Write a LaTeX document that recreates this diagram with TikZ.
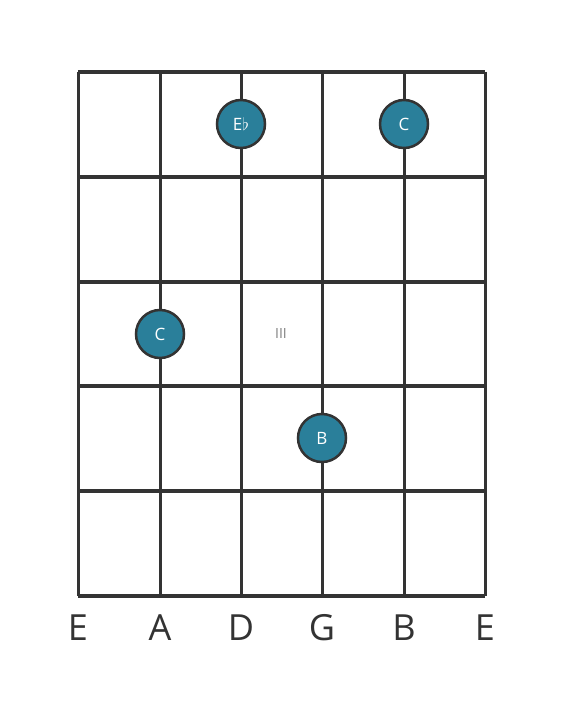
\documentclass[tikz,border=0pt]{standalone}
\usepackage{fontspec}
\setmainfont{Open Sans}
\definecolor{dotfill}{HTML}{2A7F9A}
\definecolor{gridline}{HTML}{333333}
\def\strlist{{78/E/s1}, {160/A/s2}, {241/D/s3}, {322/G/s4}, {404/B/s5}, {485/E/s6}}
\def\notelist{{241/124/E$\flat$/n1}, {404/124/C/n2}, {160/334/C/n3}, {322/438/B/n4}}
\tikzstyle{fret} = [draw=gridline, line width=4pt]
\tikzstyle{string} = [draw=gridline, line width=3pt]
\tikzstyle{note}=[circle,fill=dotfill,draw=gridline,line width=2.5pt,minimum size=48pt,inner sep=0pt,text=white,font=\fontsize{17}{17}\selectfont]
\tikzstyle{strlabel}=[font=\fontsize{36}{36}\selectfont,text=gridline]

\begin{document}
\begin{tikzpicture}[x=1pt,y=-1pt]
  \useasboundingbox (0,0) rectangle (566,711);
  \foreach \y [count=\i] in {72,177,282,386,491,596} {
    \coordinate (fl\i) at (78,\y);
    \coordinate (fr\i) at (485,\y);
  }
  \foreach \x/\name/\id in \strlist {
    \coordinate (\id top) at (\x,72);
    \coordinate (\id bot) at (\x,596);
    \path[string] (\id top) -- (\id bot);
    \node[strlabel] (\id lab) at (\x,628) {\name};
  }
  \foreach \i in {1,...,6} {
    \path[fret] (fl\i) -- (fr\i);
  }
  \node[text=gray,font=\fontsize{14}{14}\selectfont] (mark3) at (281,334) {III};
  \foreach \x/\y/\name/\id in \notelist {
    \node[note] (\id) at (\x,\y) {\name};
  }
\end{tikzpicture}
\end{document}
